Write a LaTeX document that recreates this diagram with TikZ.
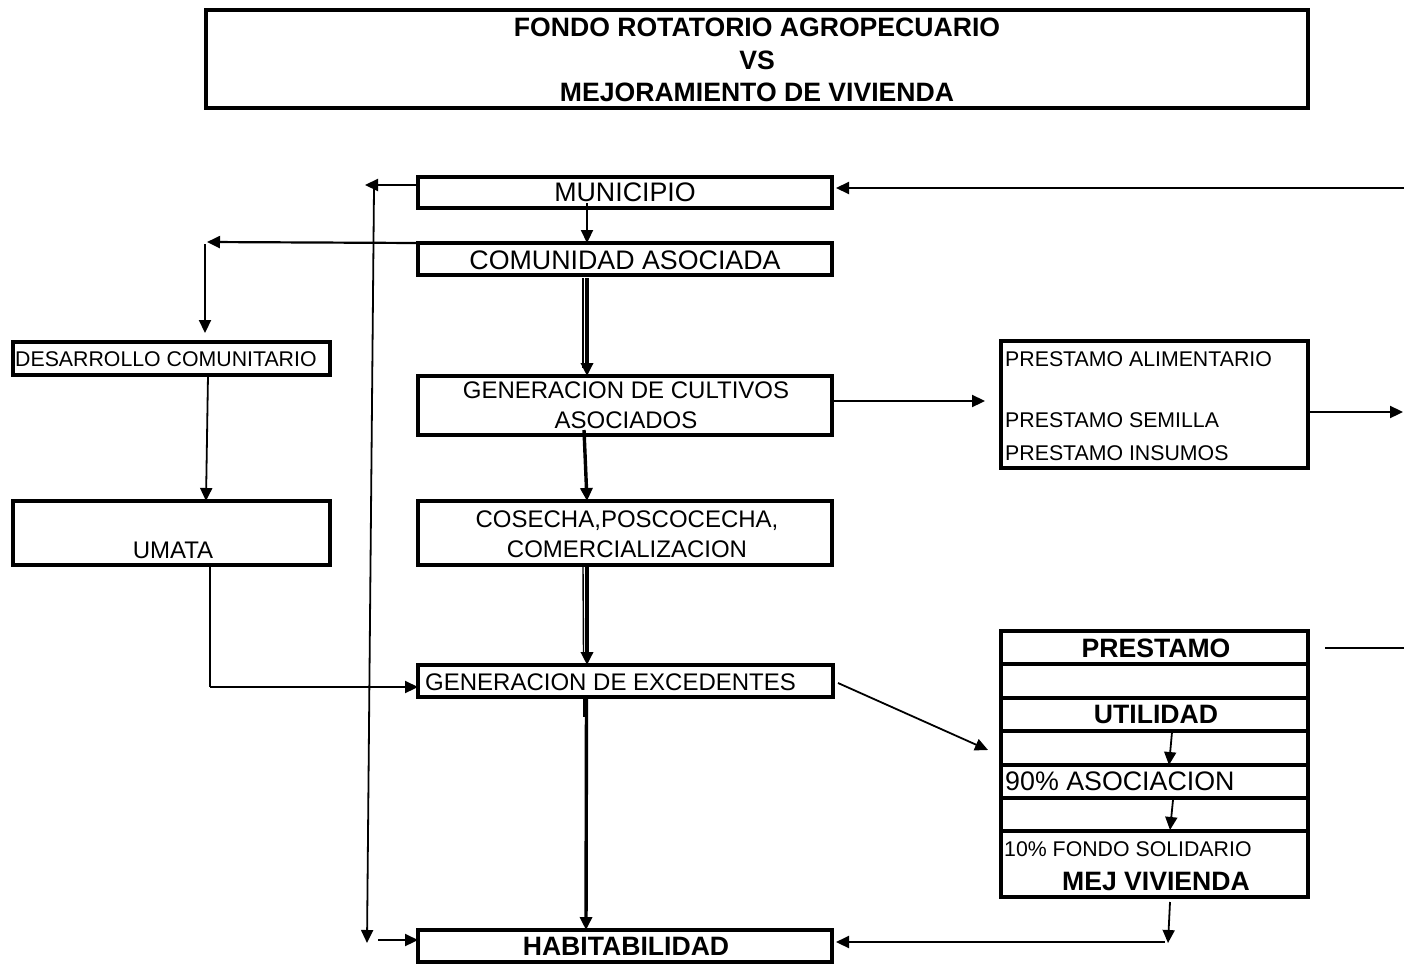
\documentclass[tikz,border=0pt]{standalone}
\usepackage{fontspec}
\setmainfont{Liberation Sans}
\usetikzlibrary{arrows.meta,calc}
\begin{document}
\begin{tikzpicture}[x=1pt,y=-1pt,
  box/.style={draw, line width=3.2pt, rectangle, inner sep=0pt, outer sep=0pt},
  conn/.style={line width=2.2pt},
  thinconn/.style={line width=1.4pt},
  arr/.style={line width=2.2pt, -{Triangle[length=13pt,width=12pt]}},
  arrthick/.style={line width=3.4pt, -{Triangle[length=13pt,width=12pt]}},
  arrthin/.style={line width=1.8pt, -{Triangle[length=13pt,width=12pt]}},
  big/.style={font=\fontsize{26.8}{30}\selectfont, inner sep=0pt, anchor=base},
  bigb/.style={font=\bfseries\fontsize{26.6}{30}\selectfont, inner sep=0pt, anchor=base},
  mid/.style={font=\fontsize{24}{28}\selectfont, inner sep=0pt, anchor=base},
  small/.style={font=\fontsize{21.3}{25}\selectfont, inner sep=0pt, anchor=base}]
\useasboundingbox (0,0) rectangle (1404,963);

% boxes
\node[box, line width=3.4pt, minimum width=1102pt, minimum height=98pt] (title) at (757,59) {};
\node[box, minimum width=414pt, minimum height=31pt] (mun) at (625,192.5) {};
\node[box, minimum width=414pt, minimum height=32pt] (com) at (625,259) {};
\node[box, minimum width=317pt, minimum height=33pt] (dev) at (171.5,358.5) {};
\node[box, minimum width=317pt, minimum height=64pt] (uma) at (171.5,533) {};
\node[box, minimum width=414pt, minimum height=59pt] (gen) at (625,405.5) {};
\node[box, minimum width=414pt, minimum height=64pt] (cos) at (625,533) {};
\node[box, minimum width=415pt, minimum height=32pt] (exc) at (625.5,681) {};
\node[box, minimum width=414pt, minimum height=32pt] (hab) at (625,946) {};
\node[box, minimum width=307pt, minimum height=127pt] (pre) at (1154.5,404.5) {};
\node[box, minimum width=307pt, minimum height=33pt] (r1) at (1154.5,647.5) {};
\node[box, minimum width=307pt, minimum height=34pt] (r2) at (1154.5,681) {};
\node[box, minimum width=307pt, minimum height=33pt] (r3) at (1154.5,714.5) {};
\node[box, minimum width=307pt, minimum height=34pt] (r4) at (1154.5,748) {};
\node[box, minimum width=307pt, minimum height=33pt] (r5) at (1154.5,781.5) {};
\node[box, minimum width=307pt, minimum height=33pt] (r6) at (1154.5,814.5) {};
\node[box, minimum width=307pt, minimum height=66pt] (r7) at (1154.5,864) {};

% texts
\node[bigb] (t1) at (757,36.6) {FONDO ROTATORIO AGROPECUARIO};
\node[bigb] (t2) at (757,69.6) {VS};
\node[bigb] (t3) at (757,101.6) {MEJORAMIENTO DE VIVIENDA};
\node[big] (tmun) at (625,201) {MUNICIPIO};
\node[big] (tcom) at (625,269) {COMUNIDAD ASOCIADA};
\node[small, anchor=base west] (tdev) at (15,366.5) {DESARROLLO COMUNITARIO};
\node[mid] (tuma) at (173,558) {UMATA};
\node[mid] (tgen1) at (626,398) {GENERACION DE CULTIVOS};
\node[mid] (tgen2) at (626,428) {ASOCIADOS};
\node[mid] (tcos1) at (627,527) {COSECHA,POSCOCECHA,};
\node[mid] (tcos2) at (627,557) {COMERCIALIZACION};
\node[mid, anchor=base west] (texc) at (425,690) {GENERACION DE EXCEDENTES};
\node[bigb] (thab) at (626,955) {HABITABILIDAD};
\node[small, anchor=base west] (tpa) at (1005,366.6) {PRESTAMO ALIMENTARIO};
\node[small, anchor=base west] (tps) at (1005,427.6) {PRESTAMO SEMILLA};
\node[small, anchor=base west] (tpi) at (1005,460.6) {PRESTAMO INSUMOS};
\node[bigb] (tr1) at (1156,657.6) {PRESTAMO};
\node[bigb] (tr3) at (1156,723.6) {UTILIDAD};
\node[big, anchor=base west] (tr5) at (1005,790.6) {90\% ASOCIACION};
\node[small, anchor=base west] (tr7a) at (1004,856.6) {10\% FONDO SOLIDARIO};
\node[bigb] (tr7b) at (1156,890.6) {MEJ VIVIENDA};

% free ends
\coordinate (munL) at (365,185);
\coordinate (vtop) at (374,188);
\coordinate (vbot) at (367,943);
\coordinate (hstart) at (378,940);
\coordinate (comL) at (207,242);
\coordinate (devTop) at (205,244);
\coordinate (umaCorner) at (210,687);
\coordinate (rightTop) at (1404,188);
\coordinate (rightMid) at (1403,412);
\coordinate (r1line) at (1325,648);
\coordinate (r1end) at (1404,648);
\coordinate (mejCorner) at (1168,943);

% connectors
\draw[arr] (mun.west |- munL) -- (munL);
\draw[arrthin] (vtop) -- (vbot);
\draw[arr] (hstart) -- (hab.west |- hstart);
\draw[arr] ($(mun.south)+(-38,-5)$) -- ($(com.north)+(-38,0)$);
\draw[arr] (com.north west) -- (comL);
\draw[arr] (devTop) -- ($(devTop |- dev.north)+(0,-9)$);
\draw[arrthin] ($(dev.south)+(36.5,0)$) -- ($(uma.north)+(34.5,0)$);
\draw[conn] ($(uma.south)+(38.5,0)$) -- (umaCorner);
\draw[arr] (umaCorner) -- (exc.west |- umaCorner);
% double lines in the centre column
\draw[thinconn] ($(com.south)+(-42,3)$) -- ($(gen.north)+(-42,-8)$);
\draw[arrthick] ($(com.south)+(-38,3)$) -- ($(gen.north)+(-38,0)$);
\draw[arrthick] ($(gen.south)+(-41,-5)$) -- ($(cos.north)+(-38,0)$);
\draw[thinconn] ($(cos.south)+(-42,2)$) -- ($(exc.north)+(-42,-10)$);
\draw[arrthick] ($(cos.south)+(-38,2)$) -- ($(exc.north)+(-38.5,0)$);
\draw[thinconn] ($(exc.south)+(-41.5,-2)$) -- ($(exc.south)+(-41.5,20)$);
\draw[arrthick] ($(exc.south)+(-39,0)$) -- ($(hab.north)+(-39,0)$);
% right side
\draw[arr] ($(gen.east)+(0,-4.5)$) -- ($(pre.west)+(-16,-3.5)$);
\draw[arr] (pre.east |- rightMid) -- (rightMid);
\draw[arr] (rightTop) -- ($(mun.east |- rightTop)+(4,0)$);
\draw[conn] (r1line) -- (r1end);
\draw[arrthin] ($(exc.east)+(5,2)$) -- ($(r4.west)+(-13,2)$);
\draw[arrthin] ($(r3.south)+(17.5,1)$) -- ($(r5.north)+(14.5,0)$);
\draw[arrthin] ($(r6.north)+(18.5,2)$) -- ($(r7.north)+(15.5,-1)$);
\draw[arrthin] ($(r7.south)+(15.5,5)$) -- (mejCorner);
\draw[arr] ($(mejCorner)+(-3,-1)$) -- ($(hab.east |- mejCorner)+(4,-1)$);
\end{tikzpicture}
\end{document}
